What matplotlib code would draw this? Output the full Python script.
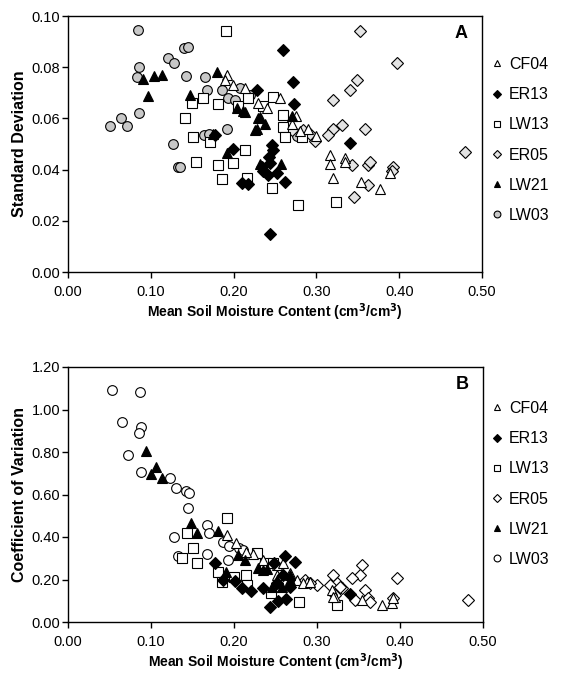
import numpy as np
import matplotlib.pyplot as plt

plt.rcParams['font.family'] = ['Liberation Sans', 'DejaVu Sans']

# ---------------------------------------------------------------
# Panel A: standard deviation vs mean soil moisture
# ---------------------------------------------------------------
sd_cf04_x = [0.192, 0.190, 0.199, 0.214, 0.256, 0.275, 0.290, 0.270, 0.280, 0.300,
             0.316, 0.334, 0.316, 0.335, 0.320, 0.354, 0.377, 0.389, 0.230, 0.240]
sd_cf04_y = [0.077, 0.075, 0.073, 0.072, 0.068, 0.061, 0.056, 0.058, 0.055, 0.053,
             0.0457, 0.0445, 0.042, 0.043, 0.0367, 0.035, 0.0324, 0.0387, 0.066, 0.064]

sd_er13_x = [0.260, 0.272, 0.273, 0.228, 0.341, 0.199, 0.178, 0.234, 0.248, 0.243,
             0.252, 0.262, 0.210, 0.217, 0.244, 0.246, 0.244, 0.235, 0.241]
sd_er13_y = [0.0867, 0.0742, 0.0656, 0.071, 0.0504, 0.048, 0.0535, 0.041, 0.0477, 0.045,
             0.0387, 0.0352, 0.0348, 0.0344, 0.0148, 0.0496, 0.0425, 0.0395, 0.038]

sd_lw13_x = [0.191, 0.141, 0.150, 0.163, 0.181, 0.151, 0.172, 0.214, 0.235, 0.248,
             0.260, 0.260, 0.262, 0.283, 0.155, 0.181, 0.199, 0.186, 0.216, 0.246,
             0.278, 0.324, 0.217, 0.205]
sd_lw13_y = [0.094, 0.060, 0.066, 0.068, 0.0656, 0.0527, 0.0508, 0.0477, 0.065, 0.0684,
             0.0613, 0.0567, 0.0527, 0.0527, 0.043, 0.0418, 0.0426, 0.0363, 0.0367, 0.0328,
             0.026, 0.0273, 0.068, 0.065]

sd_er05_x = [0.353, 0.397, 0.349, 0.341, 0.320, 0.320, 0.331, 0.314, 0.359, 0.479,
             0.284, 0.298, 0.292, 0.343, 0.362, 0.365, 0.392, 0.391, 0.362, 0.345, 0.270]
sd_er05_y = [0.094, 0.0816, 0.075, 0.071, 0.067, 0.056, 0.0574, 0.0535, 0.056, 0.047,
             0.0555, 0.051, 0.054, 0.0418, 0.0418, 0.043, 0.041, 0.0395, 0.034, 0.0293, 0.0555]

sd_lw21_x = [0.091, 0.104, 0.113, 0.097, 0.180, 0.147, 0.204, 0.214, 0.232, 0.228,
             0.238, 0.192, 0.232, 0.257, 0.270, 0.211, 0.229, 0.175, 0.226]
sd_lw21_y = [0.0754, 0.0766, 0.077, 0.0688, 0.078, 0.069, 0.064, 0.0625, 0.0605, 0.056,
             0.058, 0.0465, 0.042, 0.042, 0.061, 0.063, 0.060, 0.054, 0.0555]

sd_lw03_x = [0.085, 0.086, 0.083, 0.086, 0.051, 0.064, 0.071, 0.140, 0.145, 0.121,
             0.128, 0.142, 0.165, 0.168, 0.186, 0.193, 0.208, 0.220, 0.202, 0.192,
             0.164, 0.127, 0.133, 0.276, 0.170, 0.135]
sd_lw03_y = [0.0945, 0.080, 0.076, 0.062, 0.057, 0.060, 0.057, 0.0875, 0.088, 0.0835,
             0.0817, 0.0766, 0.0762, 0.071, 0.071, 0.068, 0.072, 0.069, 0.067, 0.056,
             0.0535, 0.050, 0.041, 0.053, 0.054, 0.041]

# ---------------------------------------------------------------
# Panel B: coefficient of variation vs mean soil moisture
# ---------------------------------------------------------------
cv_cf04_x = [0.191, 0.203, 0.223, 0.252, 0.252, 0.259, 0.267, 0.276, 0.288, 0.318,
             0.322, 0.354, 0.378, 0.390, 0.392, 0.283, 0.292, 0.319, 0.215, 0.235]
cv_cf04_y = [0.41, 0.37, 0.32, 0.22, 0.267, 0.277, 0.23, 0.20, 0.19, 0.15,
             0.117, 0.103, 0.08, 0.089, 0.113, 0.183, 0.19, 0.117, 0.33, 0.29]

cv_er13_x = [0.177, 0.187, 0.201, 0.210, 0.220, 0.235, 0.243, 0.253, 0.263, 0.261,
             0.273, 0.248, 0.252, 0.267, 0.340, 0.259]
cv_er13_y = [0.28, 0.197, 0.192, 0.16, 0.146, 0.16, 0.07, 0.10, 0.108, 0.31,
             0.282, 0.277, 0.183, 0.165, 0.13, 0.22]

cv_lw13_x = [0.192, 0.143, 0.151, 0.155, 0.137, 0.181, 0.185, 0.215, 0.216, 0.228,
             0.237, 0.247, 0.245, 0.278, 0.324, 0.200]
cv_lw13_y = [0.49, 0.42, 0.347, 0.277, 0.30, 0.235, 0.188, 0.22, 0.174, 0.324,
             0.277, 0.277, 0.136, 0.094, 0.08, 0.21]

cv_er05_x = [0.354, 0.352, 0.342, 0.396, 0.324, 0.316, 0.300, 0.292, 0.319, 0.330,
             0.346, 0.358, 0.362, 0.364, 0.392, 0.482, 0.285, 0.322, 0.328]
cv_er05_y = [0.268, 0.22, 0.206, 0.206, 0.183, 0.174, 0.174, 0.183, 0.22, 0.16,
             0.103, 0.15, 0.113, 0.094, 0.113, 0.103, 0.197, 0.127, 0.165]

cv_lw21_x = [0.094, 0.100, 0.106, 0.113, 0.148, 0.155, 0.181, 0.190, 0.213, 0.205,
             0.229, 0.235, 0.267, 0.252, 0.246, 0.258, 0.267, 0.240]
cv_lw21_y = [0.807, 0.695, 0.728, 0.676, 0.465, 0.42, 0.427, 0.235, 0.29, 0.315,
             0.253, 0.244, 0.22, 0.197, 0.165, 0.165, 0.197, 0.25]

cv_lw03_x = [0.053, 0.087, 0.065, 0.088, 0.085, 0.072, 0.088, 0.123, 0.130, 0.142,
             0.146, 0.144, 0.167, 0.170, 0.128, 0.133, 0.167, 0.187, 0.194, 0.206,
             0.211, 0.193]
cv_lw03_y = [1.094, 1.084, 0.94, 0.916, 0.89, 0.785, 0.705, 0.676, 0.63, 0.617,
             0.605, 0.535, 0.455, 0.417, 0.40, 0.31, 0.32, 0.375, 0.357, 0.347,
             0.338, 0.29]

sites = ['CF04', 'ER13', 'LW13', 'ER05', 'LW21', 'LW03']

# marker, size, facecolour (panel A, panel B)
stijl = {
    'CF04': ('^', 7.0, 'white', 'white'),
    'ER13': ('D', 6.0, 'black', 'black'),
    'LW13': ('s', 7.0, 'white', 'white'),
    'ER05': ('D', 6.0, '#e4e4e4', 'white'),
    'LW21': ('^', 7.0, 'black', 'black'),
    'LW03': ('o', 7.0, '#c8c8c8', 'white'),
}

data_a = {
    'CF04': (sd_cf04_x, sd_cf04_y), 'ER13': (sd_er13_x, sd_er13_y),
    'LW13': (sd_lw13_x, sd_lw13_y), 'ER05': (sd_er05_x, sd_er05_y),
    'LW21': (sd_lw21_x, sd_lw21_y), 'LW03': (sd_lw03_x, sd_lw03_y),
}
data_b = {
    'CF04': (cv_cf04_x, cv_cf04_y), 'ER13': (cv_er13_x, cv_er13_y),
    'LW13': (cv_lw13_x, cv_lw13_y), 'ER05': (cv_er05_x, cv_er05_y),
    'LW21': (cv_lw21_x, cv_lw21_y), 'LW03': (cv_lw03_x, cv_lw03_y),
}

# draw order: open symbols underneath, filled on top
teken_orde = ['LW03', 'ER05', 'LW13', 'CF04', 'LW21', 'ER13']


def tegn_panel(ax, data, panel_idx, ylim, yticks, ylabel, bogstav, legend_y):
    for site in teken_orde:
        m, ms, fc_a, fc_b = stijl[site]
        fc = fc_a if panel_idx == 0 else fc_b
        x, y = data[site]
        ax.plot(x, y, ls='none', marker=m, ms=ms, mfc=fc, mec='black',
                mew=0.8, label=site, zorder=3 + teken_orde.index(site))

    ax.set_xlim(0, 0.5)
    ax.set_ylim(*ylim)
    ax.set_xticks(np.arange(0, 0.51, 0.1))
    ax.set_xticklabels([f'{v:.2f}' for v in np.arange(0, 0.51, 0.1)])
    ax.set_yticks(yticks)
    ax.set_yticklabels([f'{v:.2f}' for v in yticks])
    ax.tick_params(axis='x', labelsize=10.5, length=4, width=1, pad=5)
    ax.tick_params(axis='y', labelsize=10.5, length=4, width=1, pad=1.5)
    for sp in ax.spines.values():
        sp.set_linewidth(1.0)

    ax.set_xlabel('Mean Soil Moisture Content (cm$^\\mathbf{3}$/cm$^\\mathbf{3}$)',
                  fontsize=10, fontweight='bold', labelpad=2)
    ax.set_ylabel(ylabel, fontsize=11.5, fontweight='bold', labelpad=3)
    ax.text(0.965, 0.93, bogstav, transform=ax.transAxes, fontsize=13,
            fontweight='bold', ha='right', va='center')

    handles, labels = ax.get_legend_handles_labels()
    orden = [labels.index(s) for s in sites]
    ax.legend([handles[i] for i in orden], [labels[i] for i in orden],
              loc='center left', bbox_to_anchor=(484 / 566, legend_y),
              bbox_transform=fig.transFigure, frameon=False, fontsize=11.5,
              markerscale=0.7, handlelength=0.8, handletextpad=0.35,
              labelspacing=0.95, borderaxespad=0)


fig = plt.figure(figsize=(5.66, 6.75), dpi=100)
ax_a = fig.add_axes([68 / 566, 1 - 272 / 675, (482 - 68) / 566, (272 - 16) / 675])
ax_b = fig.add_axes([68 / 566, 1 - 622 / 675, (483 - 68) / 566, (622 - 367) / 675])

tegn_panel(ax_a, data_a, 0, (0, 0.10), np.arange(0, 0.101, 0.02),
           'Standard Deviation', 'A', 1 - 140 / 675)
tegn_panel(ax_b, data_b, 1, (0, 1.2), np.arange(0, 1.21, 0.2),
           'Coefficient of Variation', 'B', 1 - 484 / 675)

fig.savefig('out.png', dpi=100, facecolor='white')
